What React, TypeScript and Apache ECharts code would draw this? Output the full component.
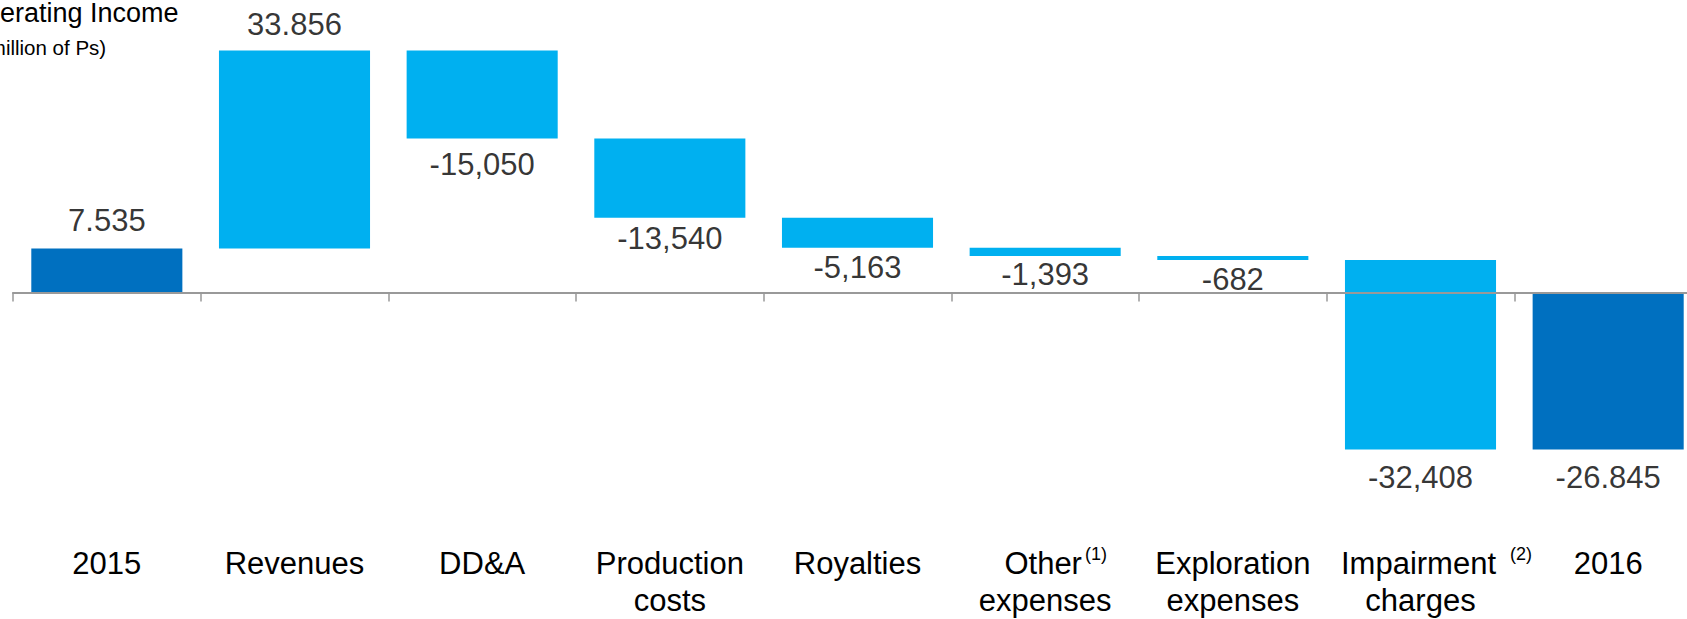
import React, { useEffect, useRef } from 'react';
import * as echarts from 'echarts';

// ---- data ----
const categories = ['2015', 'Revenues', 'DD&A', 'Production\ncosts', 'Royalties', 'Other\nexpenses', 'Exploration\nexpenses', 'Impairment\ncharges', '2016'];
const footnotes = ['', '', '', '', '', '(1)', '', '(2)', ''];
const kinds = ['total', 'delta', 'delta', 'delta', 'delta', 'delta', 'delta', 'delta', 'total'];
const values = [7535, 33856, -15050, -13540, -5163, -1393, -682, -32408, -26845];
const valueLabels = ['7.535', '33.856', '-15,050', '-13,540', '-5,163', '-1,393', '-682', '-32,408', '-26.845'];

const labelDistance = [12, 10, 10, 5, 4, 2, 3, 12, 12];

const DARK = '#0070C0';
const LIGHT = '#00B0F0';
const FONT = '"Liberation Sans", Arial, Helvetica, sans-serif';

export default function App() {
  const ref = useRef<HTMLDivElement>(null);

  useEffect(() => {
    if (!ref.current) return;
    const chart = echarts.init(ref.current, undefined, { renderer: 'svg' });

    // waterfall segments
    let running = 0;
    const bars: any[] = [];
    const labels: any[] = [];
    values.forEach((v, i) => {
      let s: number, e: number;
      if (kinds[i] === 'total') {
        s = 0;
        e = v;
        running = v;
      } else {
        s = running;
        e = running + v;
        running = e;
      }
      bars.push({ value: [i, s, e], itemStyle: { color: kinds[i] === 'total' ? DARK : LIGHT } });
      const up = v > 0;
      labels.push({
        value: [i, up ? Math.max(s, e) : Math.min(s, e)],
        label: { position: up ? 'top' : 'bottom', distance: labelDistance[i] },
      });
    });

    const option: any = {
      animation: false,
      backgroundColor: '#ffffff',
      textStyle: { fontFamily: FONT },
      grid: {
        left: 13,
        right: -15,
        top: 20,
        bottom: 89,
        containLabel: false,
        outerBoundsMode: 'none',
      },
      xAxis: [
        {
          type: 'category',
          data: categories,
          position: 'bottom',
          axisLine: { show: false, onZero: false },
          axisTick: { show: false },
          splitLine: { show: false },
          axisLabel: {
            interval: 0,
            margin: 15,
            color: '#000',
            fontSize: 31,
            lineHeight: 37,
            fontFamily: FONT,
            formatter: (val: string, idx: number) => {
              const note = footnotes[idx];
              const lines = val.split('\n');
              if (!note) return lines.join('\n');
              const wide = idx === 7;
              const first = `{${wide ? 'padB' : 'padA'}| }${lines[0]}{${wide ? 'gapB' : 'gapA'}| }{sup|${note}}`;
              return [first, ...lines.slice(1)].join('\n');
            },
            rich: {
              padA: { width: 21, fontSize: 31, lineHeight: 37 },
              gapA: { width: 3, fontSize: 31, lineHeight: 37 },
              padB: { width: 32, fontSize: 31, lineHeight: 37 },
              gapB: { width: 14, fontSize: 31, lineHeight: 37 },
              sup: { fontSize: 18, lineHeight: 18, verticalAlign: 'top', color: '#000', fontFamily: FONT },
            },
          },
        },
        {
          type: 'category',
          data: categories,
          position: 'top',
          z: 5,
          axisLine: { show: true, onZero: true, lineStyle: { color: '#999999', width: 2 } },
          axisTick: { show: true, inside: true, length: 9, lineStyle: { color: '#999999', width: 1.5 } },
          axisLabel: { show: false },
          splitLine: { show: false },
        },
      ],
      yAxis: {
        type: 'value',
        min: -40600,
        max: 46600,
        show: false,
        splitLine: { show: false },
      },
      series: [
        {
          type: 'custom',
          xAxisIndex: 0,
          z: 2,
          encode: { x: 0, y: [1, 2] },
          data: bars,
          renderItem: (params: any, api: any) => {
            const i = api.value(0);
            const s = api.value(1);
            const e = api.value(2);
            const p1 = api.coord([i, s]);
            const p2 = api.coord([i, e]);
            const w = api.size([1, 0])[0] * 0.805;
            return {
              type: 'rect',
              shape: {
                x: p1[0] - w / 2,
                y: Math.min(p1[1], p2[1]),
                width: w,
                height: Math.abs(p1[1] - p2[1]),
              },
              style: { fill: api.visual('color') },
            };
          },
        },
        {
          type: 'scatter',
          xAxisIndex: 0,
          z: 6,
          silent: true,
          symbolSize: 1,
          itemStyle: { color: 'rgba(0,0,0,0)' },
          data: labels,
          label: {
            show: true,
            color: '#000',
            fontSize: 31,
            lineHeight: 31,
            fontFamily: FONT,
            formatter: (p: any) => valueLabels[p.dataIndex],
          },
        },
      ],
      graphic: [
        {
          type: 'text',
          x: -36,
          y: 13,
          style: { text: 'Operating Income', fontSize: 27, fontFamily: FONT, fill: '#000', verticalAlign: 'middle' },
        },
        {
          type: 'text',
          x: -18,
          y: 47,
          style: { text: '(million of Ps)', fontSize: 20.5, fontFamily: FONT, fill: '#000', verticalAlign: 'middle' },
        },
      ],
    };

    chart.setOption(option);
    return () => chart.dispose();
  }, []);

  return (
    <div
      ref={ref}
      style={{ position: 'fixed', left: 0, top: 0, width: 1687, height: 619, background: '#fff' }}
    />
  );
}
